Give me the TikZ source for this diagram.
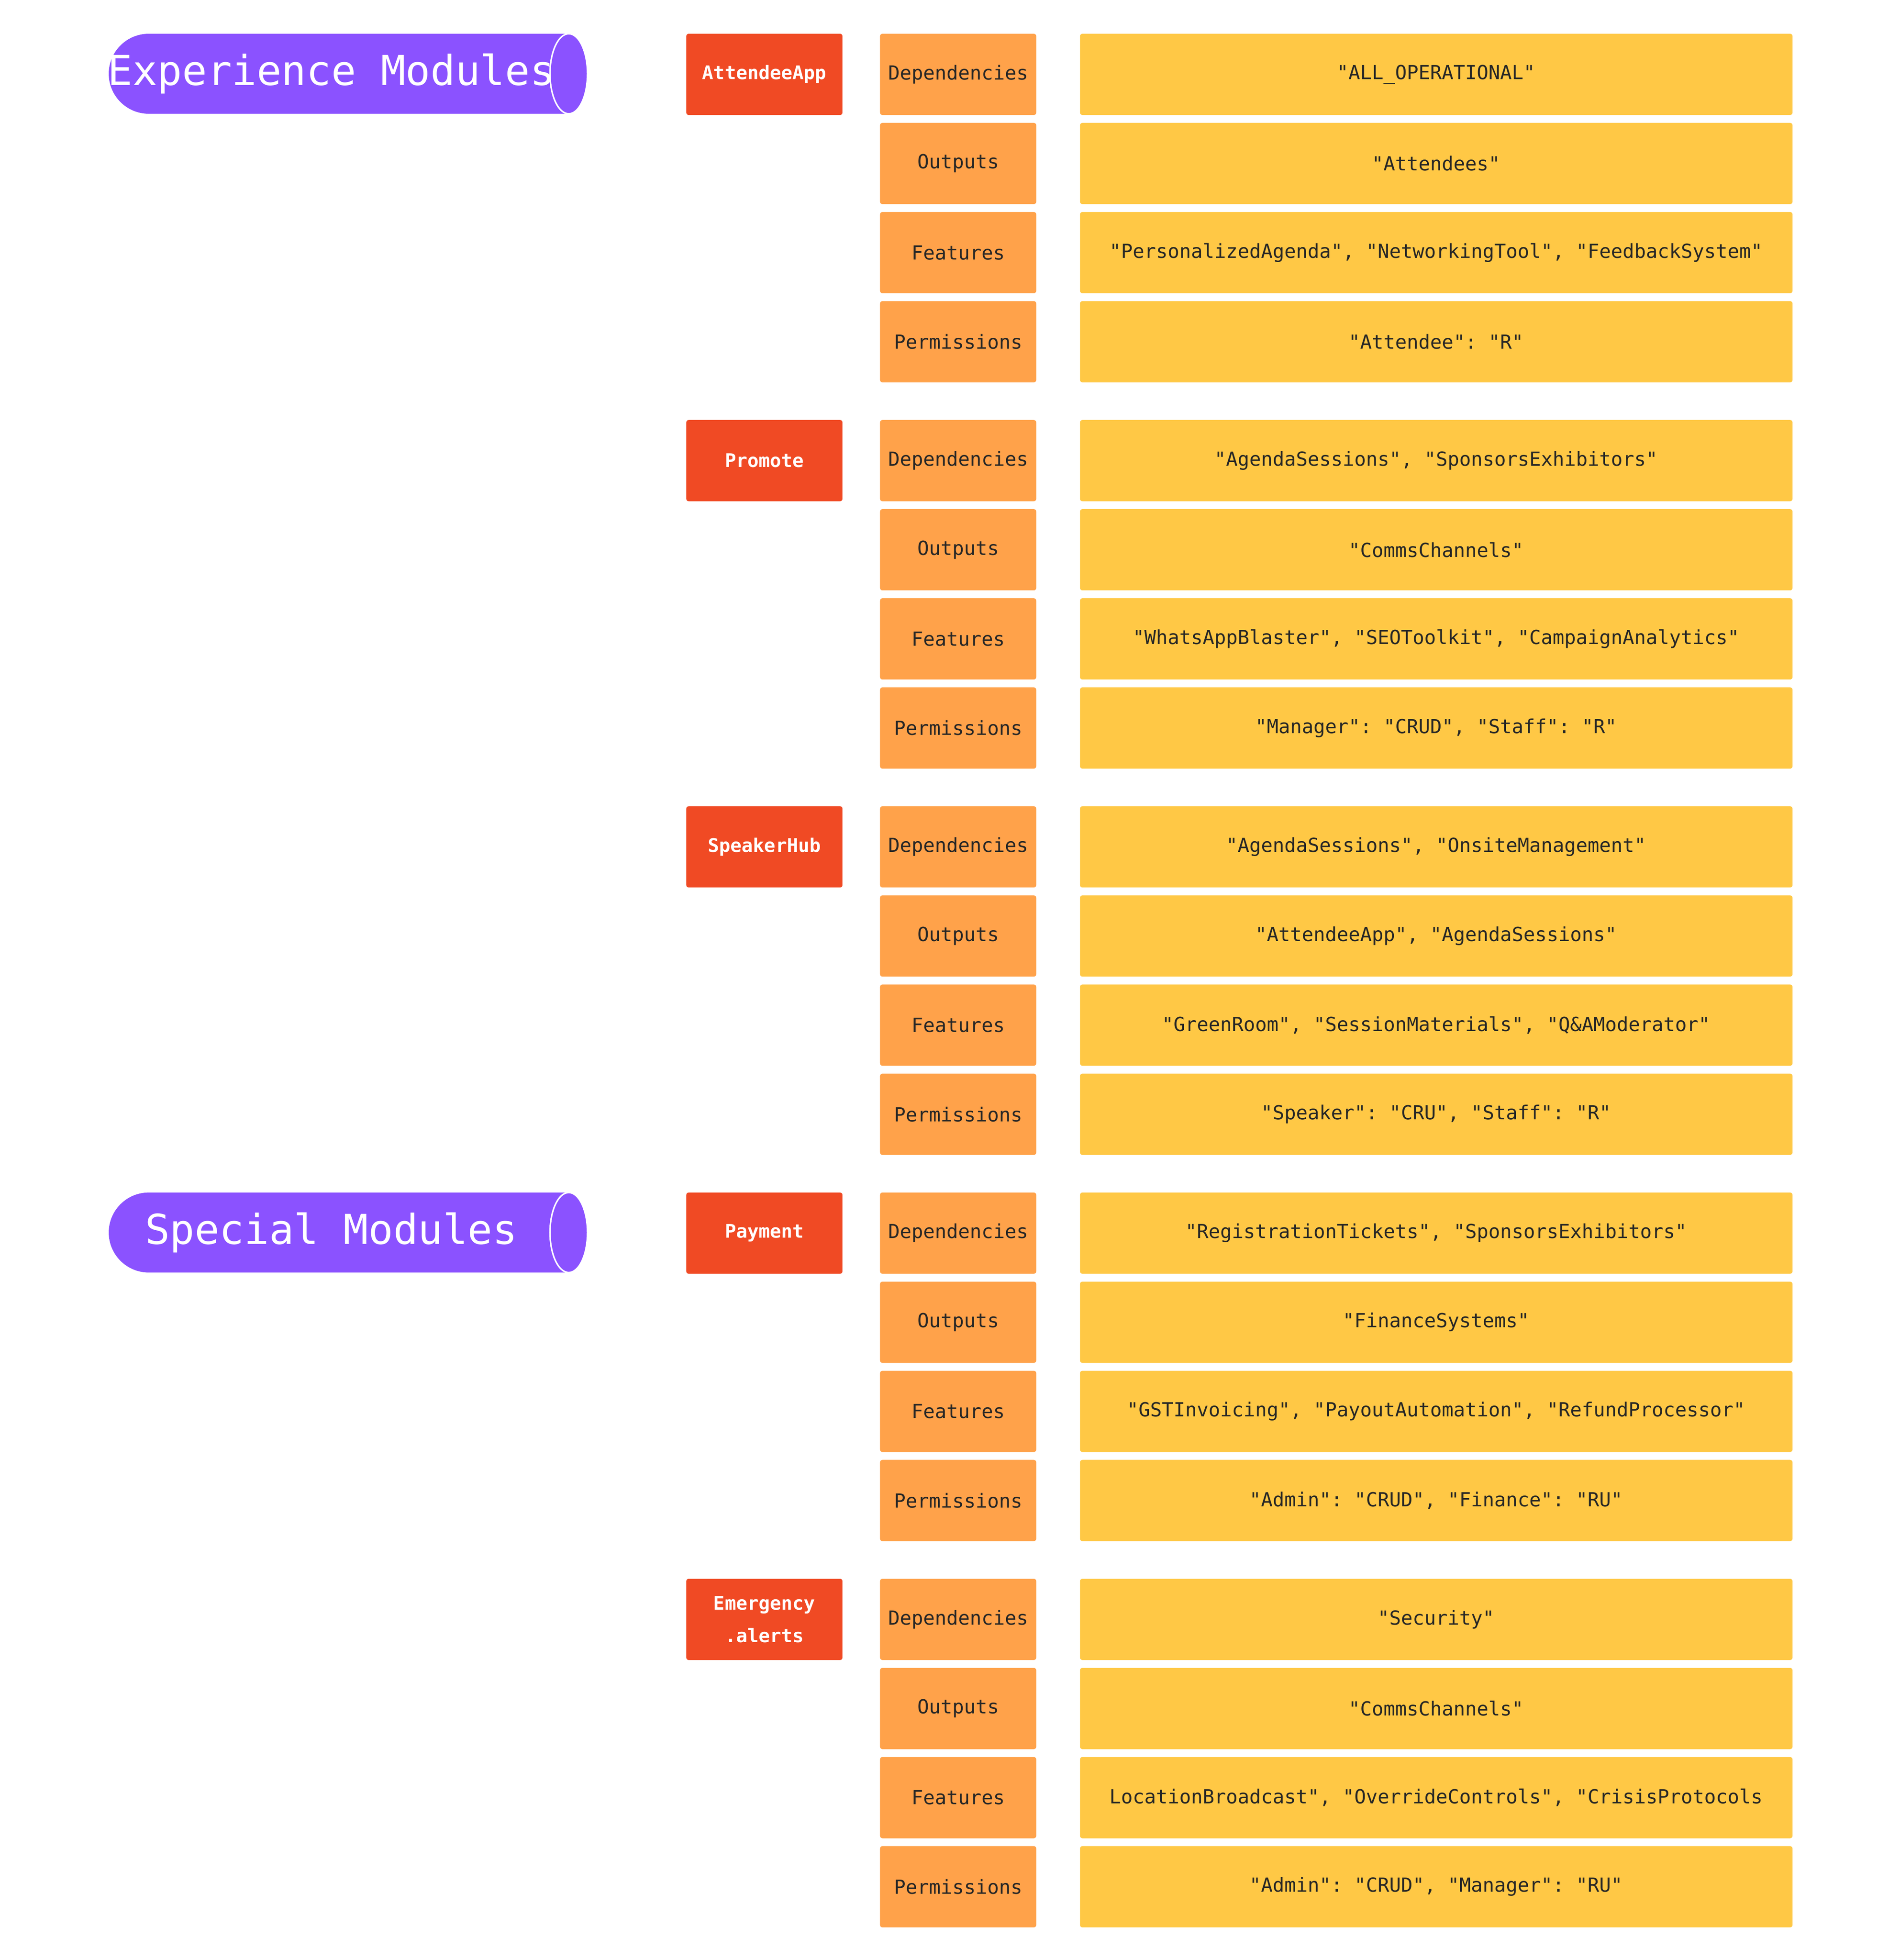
\documentclass[tikz,border=0pt]{standalone}
\usepackage{fontspec}
\setmonofont{DejaVu Sans Mono}
\usetikzlibrary{positioning}
\definecolor{modpurple}{HTML}{8B52FF}
\definecolor{modred}{HTML}{F04A24}
\definecolor{keyorange}{HTML}{FFA24A}
\definecolor{valyellow}{HTML}{FFC845}
\tikzset{
  modbox/.style={fill=modred, text=white, rounded corners=2pt, inner sep=0pt,
                 minimum width=125pt, minimum height=65pt, align=center,
                 font=\ttfamily\bfseries\fontsize{15}{26}\selectfont},
  keybox/.style={fill=keyorange, text=black!85, rounded corners=2pt, inner sep=0pt,
                 minimum width=125pt, minimum height=65pt,
                 font=\ttfamily\fontsize{15.5}{18}\selectfont},
  valbox/.style={fill=valyellow, text=black!85, rounded corners=2pt, inner sep=0pt,
                 minimum width=570pt, minimum height=65pt,
                 font=\ttfamily\fontsize{15.5}{18}\selectfont},
  header/.style={text=white, font=\ttfamily\fontsize{33}{38}\selectfont}
}
\begin{document}
\begin{tikzpicture}[x=1pt,y=-1pt]
  \useasboundingbox (0,0) rectangle (1520,1568);

  % Section headers (cylinders).
  \foreach \name/\yc/\txt in {exp/59/Experience Modules, spec/986/Special Modules}{
    \fill[modpurple] (455,\yc-32) -- (119,\yc-32) arc (270:90:32) -- (455,\yc+32) -- cycle;
    \filldraw[fill=modpurple, draw=white, line width=1.2pt] (455,\yc) ellipse (15 and 32);
    \node[header] (\name) at (265,\yc) {\txt};
  }

  % Module groups.
  \foreach \m/\top/\lbl/\dep/\out/\feat/\perm in {
    attendee/27/AttendeeApp/"ALL\_OPERATIONAL"/"Attendees"/{"PersonalizedAgenda", "NetworkingTool", "FeedbackSystem"}/{"Attendee": "R"},
    promote/336/Promote/{"AgendaSessions", "SponsorsExhibitors"}/"CommsChannels"/{"WhatsAppBlaster", "SEOToolkit", "CampaignAnalytics"}/{"Manager": "CRUD", "Staff": "R"},
    speaker/645/SpeakerHub/{"AgendaSessions", "OnsiteManagement"}/{"AttendeeApp", "AgendaSessions"}/{"GreenRoom", "SessionMaterials", "Q\&AModerator"}/{"Speaker": "CRU", "Staff": "R"},
    payment/954/Payment/{"RegistrationTickets", "SponsorsExhibitors"}/"FinanceSystems"/{"GSTInvoicing", "PayoutAutomation", "RefundProcessor"}/{"Admin": "CRUD", "Finance": "RU"},
    emergency/1263/{Emergency\\.alerts}/"Security"/"CommsChannels"/{LocationBroadcast", "OverrideControls", "CrisisProtocols}/{"Admin": "CRUD", "Manager": "RU"}}{
    \node[modbox] (\m) at (611.5,\top+32.5) {\lbl};
    \foreach \k/\key/\val [count=\i from 0] in {dep/Dependencies/\dep, out/Outputs/\out, feat/Features/\feat, perm/Permissions/\perm}{
      \node[keybox] (\m-\k) at (766.5,\top+32.5+71.3*\i) {\key};
      \node[valbox] (\m-\k-v) at (1149,\top+32.5+71.3*\i) {\val};
    }
  }
\end{tikzpicture}
\end{document}
